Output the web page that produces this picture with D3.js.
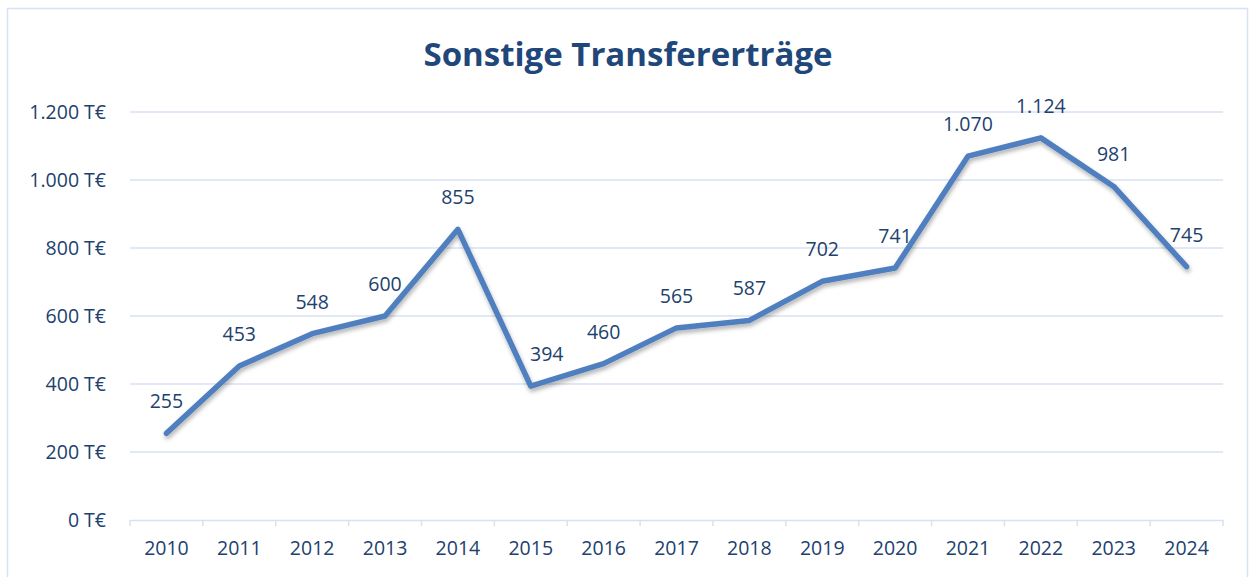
<!DOCTYPE html>
<html>
<head>
<meta charset="utf-8">
<script src="https://cdn.jsdelivr.net/npm/d3@7"></script>
<style>
  body { margin: 0; background: #fff; }
  text { font-family: "Open Sans", "Noto Sans", sans-serif; }
</style>
</head>
<body>
<svg id="chart" width="1250" height="577"></svg>
<script>
let years = ["2010", "2011", "2012", "2013", "2014", "2015", "2016", "2017", "2018", "2019", "2020", "2021", "2022", "2023", "2024"];
let values = [255, 453, 548, 600, 855, 394, 460, 565, 587, 702, 741, 1070, 1124, 981, 745];
let yTicks = [0, 200, 400, 600, 800, 1000, 1200];

let textColor = "#223f6e";
let gridColor = "#d6e2f2";
let lineColor = "#4f7fbf";
// the 2015 label sits a little to the right in the original
let labelNudge = {"2015": 16};

let svg = d3.select("#chart");
let margin = {left: 130, right: 27, top: 112, bottom: 57};
let width = 1250, height = 577;

// outer frame
svg.append("rect")
    .attr("x", 7.5).attr("y", 8.5)
    .attr("width", 1240).attr("height", 600)
    .attr("fill", "none")
    .attr("stroke", "#d4e3f5")
    .attr("stroke-width", 1.5);

let x = d3.scaleBand().domain(years).range([margin.left, width - margin.right]);
let y = d3.scaleLinear().domain([0, 1200]).range([height - margin.bottom, margin.top]);

let fmt = d => d3.format(",")(d).replace(/,/g, ".");

// title
svg.append("text")
    .attr("x", 628).attr("y", 66)
    .attr("text-anchor", "middle")
    .attr("font-size", 33)
    .attr("font-weight", "bold")
    .attr("fill", "#1f477a")
    .text("Sonstige Transfererträge");

// gridlines
svg.append("g").selectAll("line").data(yTicks.slice(1))
    .enter().append("line")
    .attr("x1", margin.left).attr("x2", width - margin.right)
    .attr("y1", d => y(d)).attr("y2", d => y(d))
    .attr("stroke", gridColor).attr("stroke-width", 1.3);

// y axis labels
let yAxis = d3.axisLeft(y).tickValues(yTicks).tickSize(0).tickPadding(24)
    .tickFormat(d => fmt(d) + " T€");
let gy = svg.append("g").attr("transform", "translate(" + margin.left + ",0)").call(yAxis);
gy.select(".domain").remove();
gy.selectAll("text").attr("font-size", 19.5).attr("fill", textColor);

// x axis
let xAxis = d3.axisBottom(x).tickSize(0).tickPadding(21);
let gx = svg.append("g").attr("transform", "translate(0," + y(0) + ")").call(xAxis);
gx.select(".domain").attr("stroke", gridColor).attr("stroke-width", 1.5);
gx.selectAll("text").attr("font-size", 19.5).attr("fill", textColor);
let bounds = years.map(d => x(d)).concat([width - margin.right]);
gx.selectAll(".sep").data(bounds).enter().append("line")
    .attr("x1", d => d).attr("x2", d => d)
    .attr("y1", 0).attr("y2", 6)
    .attr("stroke", gridColor).attr("stroke-width", 1.5);

// shadow
let defs = svg.append("defs");
let filter = defs.append("filter").attr("id", "shadow")
    .attr("x", "-10%").attr("y", "-10%").attr("width", "120%").attr("height", "130%");
filter.append("feDropShadow")
    .attr("dx", 1).attr("dy", 3).attr("stdDeviation", 2)
    .attr("flood-color", "#000").attr("flood-opacity", 0.3);

let line = d3.line()
    .x((d, i) => x(years[i]) + x.bandwidth() / 2)
    .y(d => y(d));

svg.append("path")
    .datum(values)
    .attr("d", line)
    .attr("fill", "none")
    .attr("stroke", lineColor)
    .attr("stroke-width", 5.5)
    .attr("stroke-linejoin", "round")
    .attr("stroke-linecap", "round")
    .attr("filter", "url(#shadow)");

// data labels
svg.append("g").selectAll("text").data(values)
    .enter().append("text")
    .attr("x", (d, i) => x(years[i]) + x.bandwidth() / 2 + (labelNudge[years[i]] || 0))
    .attr("y", d => y(d) - 25)
    .attr("text-anchor", "middle")
    .attr("font-size", 19.5)
    .attr("fill", textColor)
    .text(d => fmt(d));
</script>
</body>
</html>
